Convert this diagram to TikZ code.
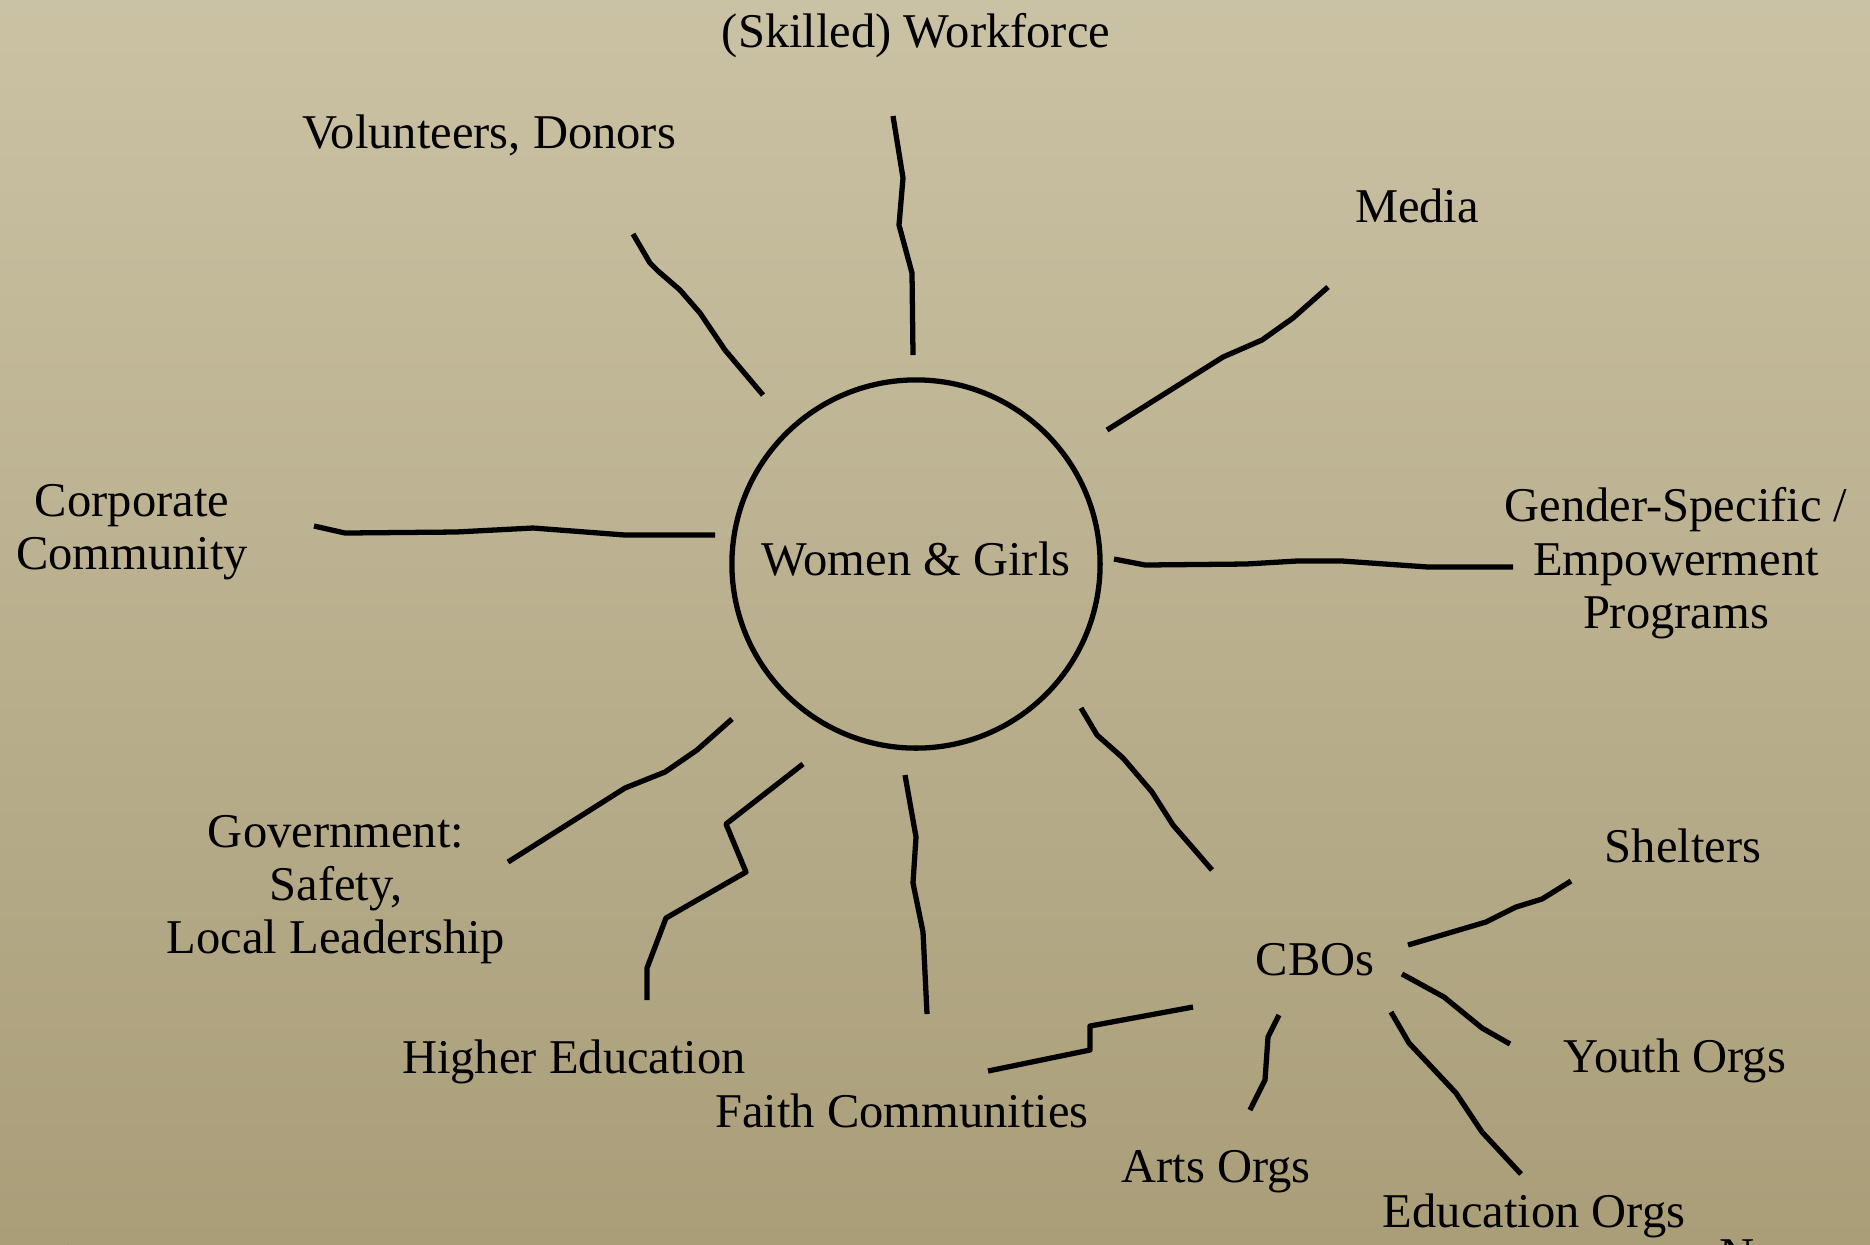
\documentclass[tikz,border=0pt]{standalone}
\usepackage{fontspec}
\setmainfont{Liberation Serif}
\definecolor{bgtop}{RGB}{202,194,164}
\definecolor{bgbot}{RGB}{170,158,121}
\tikzset{
  ray/.style={line width=1.5pt, line join=round, draw=black},
  lbl/.style={anchor=base, inner sep=0pt, font=\fontsize{13.8}{15.2}\selectfont, text=black},
}
\begin{document}
\begin{tikzpicture}[x=0.01cm,y=-0.01cm]
\useasboundingbox (0,0) rectangle (1870,1244);
\shade[top color=bgtop, bottom color=bgbot] (0,0) rectangle (1870,1244);

% central circle
\node[draw=black, line width=1.5pt, circle, minimum size=3.68cm, inner sep=0pt] (hub) at (916,564) {};
\node[lbl] (hubtxt) at (916,575) {Women \& Girls};

% labels
\node[lbl] (work) at (916,47) {(Skilled) Workforce};
\node[lbl] (vol) at (489,148) {Volunteers, Donors};
\node[lbl] (media) at (1417,222) {Media};
\node[lbl] (corp1) at (132,516) {Corporate};
\node[lbl] (corp2) at (132,569) {Community};
\node[lbl] (gen1) at (1676,521) {Gender-Specific /};
\node[lbl] (gen2) at (1676,575) {Empowerment};
\node[lbl] (gen3) at (1676,628) {Programs};
\node[lbl] (gov1) at (336,847) {Government:};
\node[lbl] (gov2) at (336,900) {Safety,};
\node[lbl] (gov3) at (336,953) {Local Leadership};
\node[lbl] (higher) at (574,1073) {Higher Education};
\node[lbl] (faith) at (902,1127) {Faith Communities};
\node[lbl] (cbo) at (1315,975) {CBOs};
\node[lbl] (shelt) at (1683,862) {Shelters};
\node[lbl] (youth) at (1675,1072) {Youth Orgs};
\node[lbl] (arts) at (1216,1182) {Arts Orgs};
\node[lbl] (eduorg) at (1534,1227) {Education Orgs};
\node[lbl, anchor=base west] (cutN) at (1719,1271) {N};
\node[lbl, anchor=base west] (cuti) at (62,1277) {i};

% endpoints of the rays
\coordinate (volA) at (633,234);   \coordinate (volB) at (763,395);
\coordinate (wrkA) at (893,116);   \coordinate (wrkB) at (913,355);
\coordinate (medA) at (1328,287);  \coordinate (medB) at (1107,430);
\coordinate (corA) at (314,526);   \coordinate (corB) at (715,535);
\coordinate (genA) at (1114,559);  \coordinate (genB) at (1513,567);
\coordinate (govA) at (732,719);   \coordinate (govB) at (508,862);
\coordinate (higA) at (803,764);   \coordinate (higB) at (647,1000);
\coordinate (faiA) at (905,775);   \coordinate (faiB) at (927,1014);
\coordinate (cboA) at (1081,708);  \coordinate (cboB) at (1212,870);
\coordinate (fcA) at (1193,1007);  \coordinate (fcB) at (988,1071);
\coordinate (shA) at (1408,945);   \coordinate (shB) at (1571,881);
\coordinate (yoA) at (1402,974);   \coordinate (yoB) at (1510,1044);
\coordinate (edA) at (1391,1012);  \coordinate (edB) at (1521,1174);
\coordinate (arA) at (1279,1015);  \coordinate (arB) at (1250,1110);

% rays
\draw[ray] (volA) -- (650,263) -- (658,271) -- (680,290) -- (700,313) -- (725,350) -- (volB);
\draw[ray] (wrkA) -- (903,178) -- (899,225) -- (912,273) -- (wrkB);
\draw[ray] (medA) -- (1293,318) -- (1262,340) -- (1223,357) -- (medB);
\draw[ray] (corA) -- (345,533) -- (456,532) -- (533,528) -- (625,535) -- (corB);
\draw[ray] (genA) -- (1145,565) -- (1246,564) -- (1297,561) -- (1342,561) -- (1428,567) -- (genB);
\draw[ray] (govA) -- (697,750) -- (665,772) -- (625,788) -- (govB);
\draw[ray] (higA) -- (726,824) -- (746,872) -- (666,918) -- (647,968) -- (higB);
\draw[ray] (faiA) -- (916,837) -- (913,883) -- (923,932) -- (faiB);
\draw[ray] (cboA) -- (1097,735) -- (1123,758) -- (1152,792) -- (1173,825) -- (1193,848) -- (cboB);
\draw[ray] (fcA) -- (1090,1026) -- (1090,1050) -- (fcB);
\draw[ray] (shA) -- (1486,922) -- (1516,907) -- (1542,899) -- (shB);
\draw[ray] (yoA) -- (1444,997) -- (1482,1028) -- (yoB);
\draw[ray] (edA) -- (1409,1043) -- (1456,1093) -- (1482,1132) -- (edB);
\draw[ray] (arA) -- (1268,1037) -- (1265,1080) -- (arB);
\end{tikzpicture}
\end{document}
